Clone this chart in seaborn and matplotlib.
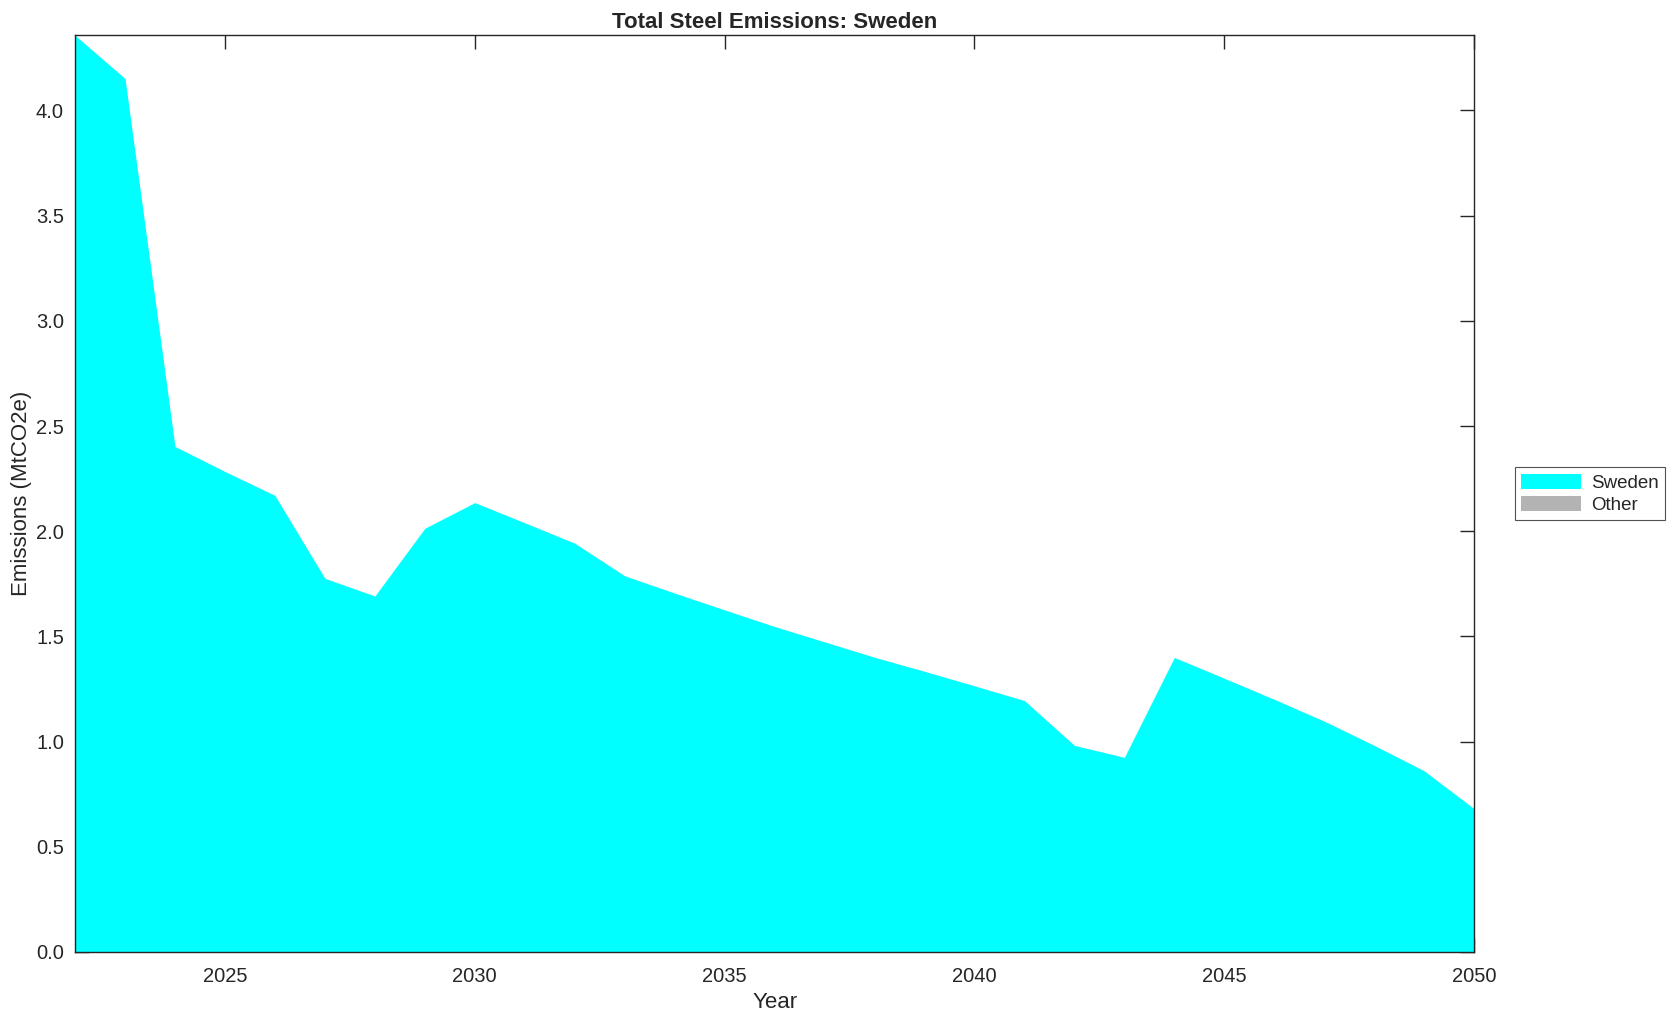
import matplotlib
matplotlib.use("Agg")
import matplotlib.pyplot as plt
import matplotlib.patches as mpatches
from matplotlib.ticker import FormatStrFormatter, MultipleLocator
import seaborn as sns
import pandas as pd

# values
years = list(range(2022, 2051))
sweden = [4.357, 4.152, 2.403, 2.284, 2.170, 1.776, 1.692, 2.014, 2.136, 2.040,
          1.943, 1.788, 1.706, 1.626, 1.547, 1.474, 1.401, 1.334, 1.265, 1.195,
          0.982, 0.925, 1.400, 1.301, 1.201, 1.097, 0.982, 0.861, 0.681]
other = [0.0] * len(years)

series_names = ["Sweden", "Other"]
series_colors = ["#00ffff", "#b3b3b3"]

df = pd.DataFrame({"Year": years, "Sweden": sweden, "Other": other})

sns.set_theme(style="ticks")
plt.rcParams["font.family"] = ["Liberation Sans", "DejaVu Sans"]

fig = plt.figure(figsize=(16.79, 10.21), dpi=100)
ax = fig.add_axes([0.0447, 0.0676, 0.8333, 0.8978])

ax.stackplot(df["Year"], df["Sweden"], df["Other"],
             colors=series_colors, linewidth=0, labels=series_names)

ax.set_xlim(2022, 2050)
ax.set_ylim(0, max(sweden))
ax.xaxis.set_major_locator(MultipleLocator(5))
ax.yaxis.set_major_locator(MultipleLocator(0.5))
ax.yaxis.set_major_formatter(FormatStrFormatter("%.1f"))

ax.tick_params(direction="in", length=10, width=1, top=True, right=True,
               labelsize=14.5, pad=8, colors="#262626", labelcolor="#262626")
ax.tick_params(axis="x", pad=11)
for sp in ax.spines.values():
    sp.set_visible(True)
    sp.set_linewidth(1.0)
    sp.set_color("#262626")

ax.set_xlabel("Year", fontsize=16, color="#262626", labelpad=4)
ax.set_ylabel("Emissions (MtCO2e)", fontsize=16, color="#262626", labelpad=3)
ax.set_title("Total Steel Emissions: Sweden", fontsize=16, fontweight="bold", pad=5)

handles = [mpatches.Patch(facecolor=c, edgecolor="none", label=n)
           for n, c in zip(series_names, series_colors)]
leg = ax.legend(handles=handles, loc="center left", bbox_to_anchor=(1.029, 0.5),
                frameon=True, fancybox=False, fontsize=13.5, handlelength=3.2,
                handleheight=0.9, borderpad=0.35, labelspacing=0.2, handletextpad=0.5,
                borderaxespad=0)
leg.get_frame().set_edgecolor("#262626")
leg.get_frame().set_linewidth(0.8)

fig.savefig("out.png", dpi=100, facecolor="white")
